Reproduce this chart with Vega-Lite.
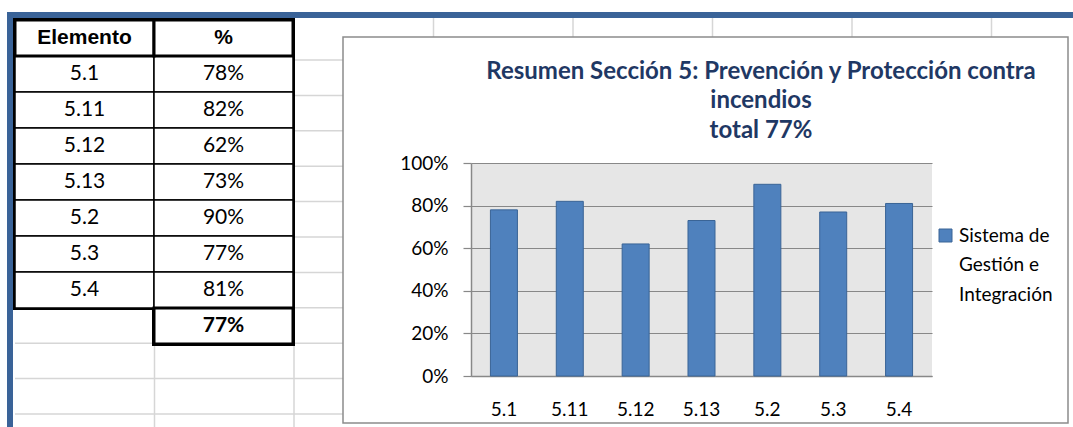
{
  "$schema": "https://vega.github.io/schema/vega-lite/v6.json",
  "width": 461,
  "height": 213,
  "autosize": {"type": "none"},
  "padding": {"left": 471, "top": 163, "right": 141, "bottom": 51},
  "background": "white",
  "config": {"font": "Lato", "view": {"fill": "#E6E6E6", "stroke": null}},
  "title": {
    "text": ["Resumen Sección 5: Prevención y Protección contra", "incendios", "total 77%"],
    "anchor": "middle",
    "frame": "group",
    "font": "Lato",
    "fontSize": 24,
    "fontWeight": "bold",
    "color": "#1F3864",
    "lineHeight": 29.5,
    "offset": 0,
    "dx": 59.5,
    "dy": 132
  },
  "datasets": {
    "bars": [
      {"element": "5.1", "value": 0.78, "serie": "Sistema de Gestión e Integración"},
      {"element": "5.11", "value": 0.82, "serie": "Sistema de Gestión e Integración"},
      {"element": "5.12", "value": 0.62, "serie": "Sistema de Gestión e Integración"},
      {"element": "5.13", "value": 0.73, "serie": "Sistema de Gestión e Integración"},
      {"element": "5.2", "value": 0.90, "serie": "Sistema de Gestión e Integración"},
      {"element": "5.3", "value": 0.77, "serie": "Sistema de Gestión e Integración"},
      {"element": "5.4", "value": 0.81, "serie": "Sistema de Gestión e Integración"}
    ],
    "table": [
      {"r": "header", "c": "Elemento", "t": "Elemento", "k": "header"},
      {"r": "header", "c": "%", "t": "%", "k": "header"},
      {"r": "5.1", "c": "Elemento", "t": "5.1", "k": "body"},
      {"r": "5.1", "c": "%", "t": "78%", "k": "body"},
      {"r": "5.11", "c": "Elemento", "t": "5.11", "k": "body"},
      {"r": "5.11", "c": "%", "t": "82%", "k": "body"},
      {"r": "5.12", "c": "Elemento", "t": "5.12", "k": "body"},
      {"r": "5.12", "c": "%", "t": "62%", "k": "body"},
      {"r": "5.13", "c": "Elemento", "t": "5.13", "k": "body"},
      {"r": "5.13", "c": "%", "t": "73%", "k": "body"},
      {"r": "5.2", "c": "Elemento", "t": "5.2", "k": "body"},
      {"r": "5.2", "c": "%", "t": "90%", "k": "body"},
      {"r": "5.3", "c": "Elemento", "t": "5.3", "k": "body"},
      {"r": "5.3", "c": "%", "t": "77%", "k": "body"},
      {"r": "5.4", "c": "Elemento", "t": "5.4", "k": "body"},
      {"r": "5.4", "c": "%", "t": "81%", "k": "body"},
      {"r": "total", "c": "%", "t": "77%", "k": "total"}
    ],
    "sheetRows": [{"k": 0}, {"k": 1}, {"k": 2}, {"k": 3}, {"k": 4}, {"k": 5}, {"k": 6}, {"k": 7}, {"k": 8}, {"k": 9}, {"k": 10}],
    "sheetColsLeft": [{"k": 1}, {"k": 2}],
    "sheetColsTop": [{"k": 3}, {"k": 4}, {"k": 5}, {"k": 6}, {"k": 7}]
  },
  "layer": [
    {
      "data": {"name": "sheetRows"},
      "mark": {"type": "rule", "color": "#D6D6D6", "strokeWidth": 1.5},
      "encoding": {
        "x": {"datum": 0, "type": "quantitative", "scale": {"domain": [0, 1], "range": [-456, -128], "zero": false, "nice": false}, "axis": null},
        "x2": {"datum": 1},
        "y": {"field": "k", "type": "quantitative", "scale": {"domain": [0, 10], "range": [-103, 251], "zero": false, "nice": false}, "axis": null}
      }
    },
    {
      "data": {"name": "sheetColsLeft"},
      "mark": {"type": "rule", "color": "#D6D6D6", "strokeWidth": 1.5},
      "encoding": {
        "x": {"field": "k", "type": "quantitative", "scale": {"domain": [0, 8], "range": [-456, 660], "zero": false, "nice": false}, "axis": null},
        "y": {"datum": 0, "type": "quantitative", "scale": {"domain": [0, 1], "range": [-146, 264], "zero": false, "nice": false}, "axis": null},
        "y2": {"datum": 1}
      }
    },
    {
      "data": {"name": "sheetColsTop"},
      "mark": {"type": "rule", "color": "#D6D6D6", "strokeWidth": 1.5},
      "encoding": {
        "x": {"field": "k", "type": "quantitative", "scale": {"domain": [0, 8], "range": [-456, 660], "zero": false, "nice": false}, "axis": null},
        "y": {"datum": 0, "type": "quantitative", "scale": {"domain": [0, 1], "range": [-146, -126], "zero": false, "nice": false}, "axis": null},
        "y2": {"datum": 1}
      }
    },
    {
      "data": {"values": [{}]},
      "layer": [
        {
          "mark": {"type": "rule", "color": "#3A6398", "strokeWidth": 6, "strokeCap": "square"},
          "encoding": {
            "x": {"datum": 0, "type": "quantitative", "scale": {"domain": [0, 1], "range": [-461, 602], "zero": false, "nice": false}, "axis": null},
            "x2": {"datum": 1},
            "y": {"datum": 0, "type": "quantitative", "scale": {"domain": [0, 1], "range": [-148, 264], "zero": false, "nice": false}, "axis": null}
          }
        },
        {
          "mark": {"type": "rule", "color": "#3A6398", "strokeWidth": 6, "strokeCap": "square"},
          "encoding": {
            "x": {"datum": 0, "type": "quantitative", "axis": null},
            "y": {"datum": 0, "type": "quantitative", "axis": null},
            "y2": {"datum": 1}
          }
        }
      ]
    },
    {
      "data": {"name": "table"},
      "encoding": {
        "x": {"field": "c", "type": "nominal", "sort": null, "scale": {"domain": ["Elemento", "%"], "range": [-456, -178], "paddingInner": 0, "paddingOuter": 0}, "axis": null},
        "y": {"field": "r", "type": "nominal", "sort": null, "scale": {"domain": ["header", "5.1", "5.11", "5.12", "5.13", "5.2", "5.3", "5.4", "total"], "range": [-143, 181], "paddingInner": 0, "paddingOuter": 0}, "axis": null}
      },
      "layer": [
        {"mark": {"type": "rect", "fill": "white", "stroke": "black", "strokeWidth": 4}},
        {"mark": {"type": "rect", "fill": "white", "stroke": "black", "strokeWidth": 1.5}},
        {"transform": [{"filter": "datum.k != 'body'"}], "mark": {"type": "rect", "fill": "white", "stroke": "black", "strokeWidth": 3}},
        {"transform": [{"filter": "datum.k == 'header'"}], "mark": {"type": "text", "font": "Liberation Sans", "fontWeight": "bold", "fontSize": 21, "color": "black"}, "encoding": {"text": {"field": "t"}}},
        {"transform": [{"filter": "datum.k == 'body'"}], "mark": {"type": "text", "font": "Lato", "fontSize": 21, "color": "black"}, "encoding": {"text": {"field": "t"}}},
        {"transform": [{"filter": "datum.k == 'total'"}], "mark": {"type": "text", "font": "Lato", "fontWeight": "bold", "fontSize": 21, "color": "black"}, "encoding": {"text": {"field": "t"}}}
      ]
    },
    {
      "data": {"values": [{}]},
      "mark": {"type": "rect", "fillOpacity": 0, "stroke": "#8C8C8C", "strokeWidth": 1.5},
      "encoding": {
        "x": {"datum": 0, "type": "quantitative", "scale": {"domain": [0, 1], "range": [-128, 597], "zero": false, "nice": false}, "axis": null},
        "x2": {"datum": 1},
        "y": {"datum": 0, "type": "quantitative", "scale": {"domain": [0, 1], "range": [-126, 260], "zero": false, "nice": false}, "axis": null},
        "y2": {"datum": 1}
      }
    },
    {
      "data": {"name": "bars"},
      "mark": {"type": "bar", "stroke": "#3A6496", "strokeWidth": 1},
      "encoding": {
        "x": {
          "field": "element", "type": "nominal", "sort": null,
          "scale": {"paddingInner": 0.59, "paddingOuter": 0.295},
          "axis": {"title": null, "labelAngle": 0, "ticks": false, "grid": false, "domainColor": "#888888", "domainWidth": 1.5, "labelFont": "Lato", "labelFontSize": 19, "labelColor": "black", "labelPadding": 24}
        },
        "y": {
          "field": "value", "type": "quantitative",
          "scale": {"domain": [0, 1], "nice": false},
          "axis": {"title": null, "format": ".0%", "values": [0, 0.2, 0.4, 0.6, 0.8, 1], "grid": true, "gridColor": "#888888", "gridWidth": 1.2, "domainColor": "#888888", "domainWidth": 1.5, "tickColor": "#888888", "tickSize": 8, "tickWidth": 1.2, "labelFont": "Lato", "labelFontSize": 19, "labelColor": "black", "labelPadding": 15}
        },
        "color": {
          "field": "serie", "type": "nominal",
          "scale": {"range": ["#4F81BD"]},
          "legend": {
            "orient": "none", "legendX": 465, "legendY": 63, "title": null,
            "symbolType": "square", "symbolSize": 169, "symbolStrokeColor": "#3A6496", "symbolStrokeWidth": 1,
            "labelFont": "Lato", "labelFontSize": 19, "labelColor": "black", "labelLimit": 0, "padding": 0,
            "labelExpr": "[slice(datum.label, 0, 10), slice(datum.label, 11, 20), slice(datum.label, 21)]",
            "encode": {"labels": {"update": {"lineHeight": {"value": 29.5}}}}
          }
        }
      }
    }
  ],
  "resolve": {"scale": {"x": "independent", "y": "independent"}}
}
